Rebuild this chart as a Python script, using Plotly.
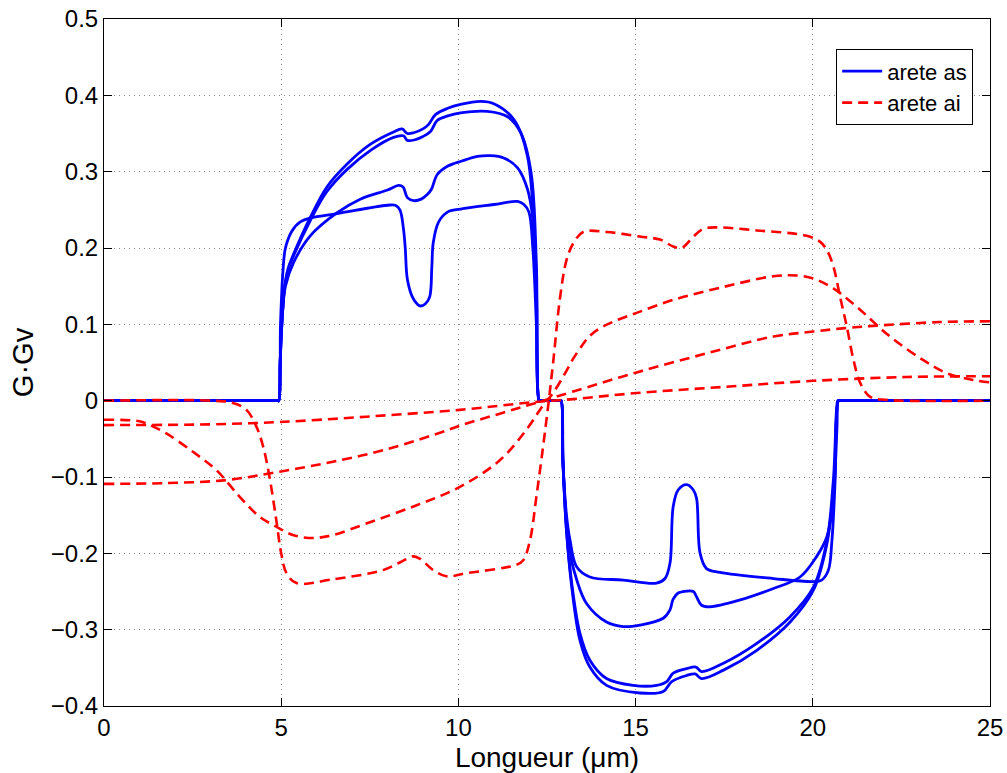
import plotly.graph_objects as go

# ---- data ----
as_a_x = [0, 4.9, 4.93, 4.98, 5.05, 5.12, 5.3, 5.53, 5.9, 6.57, 7.99, 8.22, 8.35, 8.45, 8.5, 8.56, 8.7, 8.85, 8.93, 9.07, 9.19, 9.25, 9.29, 9.44, 9.69, 10.06, 11.0, 11.67, 11.85, 11.99, 12.1, 12.2, 12.28, 12.31,
          12.87, 12.9, 12.95, 13.05, 13.15, 13.34, 13.71, 14.65, 15.59, 15.83, 15.97, 16.06, 16.2, 16.44, 16.63, 16.72, 16.82, 17.0, 17.38, 18.89, 20.02, 20.25, 20.44, 20.54, 20.63, 20.7, 20.73, 25]
as_a_y = [0, 0, 0, 0.1, 0.17, 0.2, 0.222, 0.234, 0.24, 0.245, 0.256, 0.256, 0.25, 0.225, 0.2, 0.159, 0.136, 0.126, 0.124, 0.127, 0.136, 0.175, 0.207, 0.234, 0.247, 0.251, 0.257, 0.261, 0.257, 0.247, 0.2, 0.1, 0, 0,
          0, 0, -0.08, -0.15, -0.183, -0.218, -0.231, -0.235, -0.239, -0.233, -0.213, -0.139, -0.117, -0.11, -0.117, -0.128, -0.2, -0.22, -0.225, -0.233, -0.237, -0.235, -0.222, -0.183, -0.104, 0, 0, 0]

as_b_x = [0, 4.9, 4.93, 4.97, 5.03, 5.12, 5.35, 5.82, 6.57, 7.23, 8.0, 8.31, 8.44, 8.56, 8.74, 8.95, 9.12, 9.24, 9.4, 9.69, 10.1, 10.54, 10.91, 11.28, 11.67, 11.95, 12.1, 12.2, 12.28, 12.31,
          12.87, 12.9, 12.95, 13.05, 13.15, 13.34, 13.62, 14.18, 14.65, 15.12, 15.78, 15.97, 16.06, 16.2, 16.35, 16.63, 16.72, 16.86, 17.1, 17.95, 18.89, 19.64, 20.11, 20.4, 20.58, 20.68, 20.72, 20.75, 25]
as_b_y = [0, 0, 0, 0.05, 0.11, 0.15, 0.181, 0.216, 0.246, 0.264, 0.276, 0.282, 0.28, 0.266, 0.262, 0.264, 0.27, 0.277, 0.296, 0.307, 0.314, 0.32, 0.321, 0.318, 0.305, 0.277, 0.238, 0.15, 0, 0,
          0, 0, -0.08, -0.16, -0.2, -0.235, -0.266, -0.29, -0.296, -0.294, -0.285, -0.274, -0.26, -0.252, -0.25, -0.25, -0.257, -0.268, -0.27, -0.261, -0.246, -0.231, -0.204, -0.178, -0.126, -0.038, 0, 0, 0]

as_c_x = [0, 4.9, 4.93, 4.97, 5.03, 5.1, 5.2, 5.35, 5.82, 6.29, 6.86, 7.52, 8.17, 8.45, 8.56, 8.79, 9.0, 9.22, 9.4, 9.7, 10.06, 10.82, 11.39, 11.76, 12.05, 12.2, 12.28, 12.31,
          12.87, 12.9, 12.95, 13.05, 13.2, 13.43, 13.71, 14.18, 14.93, 15.59, 15.88, 16.06, 16.44, 16.7, 16.86, 17.48, 18.42, 19.36, 20.02, 20.4, 20.58, 20.72, 20.75, 25]
as_c_y = [0, 0, 0, 0.05, 0.11, 0.15, 0.172, 0.19, 0.236, 0.274, 0.303, 0.328, 0.345, 0.347, 0.341, 0.342, 0.346, 0.353, 0.367, 0.373, 0.377, 0.379, 0.372, 0.351, 0.299, 0.18, 0, 0,
          0, 0, -0.08, -0.17, -0.24, -0.305, -0.34, -0.364, -0.373, -0.373, -0.368, -0.357, -0.351, -0.349, -0.355, -0.344, -0.318, -0.283, -0.244, -0.183, -0.104, 0, 0, 0]

as_d_x = [0, 4.9, 4.93, 4.97, 5.03, 5.1, 5.2, 5.35, 5.82, 6.29, 6.86, 7.52, 8.17, 8.41, 8.56, 8.74, 9.0, 9.16, 9.36, 9.7, 10.06, 10.63, 11.0, 11.57, 11.95, 12.19, 12.28, 12.31,
          12.87, 12.9, 12.95, 13.05, 13.2, 13.43, 13.71, 14.18, 15.12, 15.78, 16.02, 16.44, 16.68, 16.86, 17.48, 18.42, 19.36, 20.02, 20.4, 20.6, 20.72, 20.75, 25]
as_d_y = [0, 0, 0, 0.05, 0.11, 0.15, 0.174, 0.192, 0.24, 0.28, 0.31, 0.336, 0.352, 0.356, 0.35, 0.351, 0.356, 0.362, 0.375, 0.383, 0.388, 0.392, 0.389, 0.368, 0.32, 0.159, 0, 0,
          0, 0, -0.08, -0.17, -0.245, -0.314, -0.349, -0.373, -0.383, -0.381, -0.368, -0.36, -0.358, -0.364, -0.353, -0.327, -0.29, -0.248, -0.187, -0.11, 0, 0, 0]

ai_1_x = [0, 3.07, 3.64, 4.02, 4.3, 4.49, 4.67, 4.86, 5.0, 5.15, 5.43, 6.46, 7.87, 8.35, 8.72, 8.91, 9.29, 9.66, 10.23, 11.64, 11.83, 12.02, 12.2, 12.39, 12.53,
          12.68, 12.86, 13.05, 13.24, 13.52, 14.18, 15.12, 15.69, 16.06, 16.3, 16.63, 16.91, 17.29, 18.42, 19.83, 20.21, 20.4, 20.58, 20.77, 20.96, 21.15, 21.34, 21.62, 22.09, 25]
ai_1_y = [0, 0, -0.003, -0.012, -0.034, -0.06, -0.1, -0.156, -0.2, -0.226, -0.239, -0.234, -0.222, -0.212, -0.204, -0.207, -0.222, -0.23, -0.226, -0.215, -0.209, -0.183, -0.126, -0.06, -0.008,
          0.053, 0.132, 0.184, 0.206, 0.221, 0.221, 0.215, 0.211, 0.202, 0.2, 0.215, 0.225, 0.227, 0.223, 0.216, 0.208, 0.197, 0.176, 0.136, 0.097, 0.053, 0.023, 0.005, 0.001, 0]

ai_2_x = [0, 1.0, 1.29, 1.76, 2.51, 3.17, 3.83, 4.39, 4.86, 5.33, 5.9, 6.46, 7.4, 8.82, 10.04, 11.17, 11.92, 12.39, 12.67, 13.0, 13.24, 13.5, 13.71, 14.0, 14.4, 15.03, 16.06, 17.48, 18.89, 19.55, 20.02, 20.58, 21.24, 22.18, 23.12, 23.78, 24.54, 25]
ai_2_y = [-0.025, -0.027, -0.032, -0.043, -0.067, -0.091, -0.126, -0.152, -0.165, -0.176, -0.18, -0.176, -0.161, -0.137, -0.113, -0.078, -0.038, -0.006, 0.01, 0.035, 0.055, 0.073, 0.085, 0.095, 0.104, 0.115, 0.132, 0.149, 0.163, 0.164, 0.16, 0.147, 0.123, 0.084, 0.053, 0.036, 0.027, 0.024]

ai_3_x = [0, 1.76, 3.45, 4.96, 6.46, 7.87, 9.29, 10.23, 11.17, 12.11, 13.24, 15.03, 17.01, 18.89, 20.02, 20.9, 21.71, 23.6, 25]
ai_3_y = [-0.109, -0.108, -0.104, -0.093, -0.08, -0.065, -0.045, -0.03, -0.017, -0.004, 0.012, 0.037, 0.062, 0.084, 0.0906, 0.095, 0.098, 0.103, 0.104]

ai_4_x = [0, 2.98, 4.96, 7.4, 10.04, 12.11, 13.24, 15.03, 17.48, 20.02, 22.66, 25]
ai_4_y = [-0.032, -0.031, -0.028, -0.021, -0.012, -0.002, 0.002, 0.01, 0.018, 0.026, 0.031, 0.032]

x_ticks = [0, 5, 10, 15, 20, 25]
x_ticklabels = ["0", "5", "10", "15", "20", "25"]
y_ticks = [-0.4, -0.3, -0.2, -0.1, 0, 0.1, 0.2, 0.3, 0.4, 0.5]
y_ticklabels = ["\u22120.4", "\u22120.3", "\u22120.2", "\u22120.1", "0", "0.1", "0.2", "0.3", "0.4", "0.5"]

FONT = "Liberation Sans, Arial, Helvetica, sans-serif"

fig = go.Figure()
blue_sets = [(as_a_x, as_a_y), (as_b_x, as_b_y), (as_c_x, as_c_y), (as_d_x, as_d_y)]
for i, (xs, ys) in enumerate(blue_sets):
    fig.add_trace(go.Scatter(x=xs, y=ys, mode="lines", name="arete as",
                             line=dict(color="#0000FF", width=2.8, shape="spline", smoothing=1.0),
                             showlegend=(i == 0)))
red_sets = [(ai_1_x, ai_1_y), (ai_2_x, ai_2_y), (ai_3_x, ai_3_y), (ai_4_x, ai_4_y)]
for i, (xs, ys) in enumerate(red_sets):
    fig.add_trace(go.Scatter(x=xs, y=ys, mode="lines", name="arete ai",
                             line=dict(color="#FF0000", width=2.6, dash="10px,6px",
                                       shape="spline", smoothing=1.0),
                             showlegend=(i == 0)))

axis_common = dict(
    showline=True, linecolor="black", linewidth=1, mirror="allticks",
    ticks="inside", ticklen=8, tickcolor="black", tickwidth=1,
    showgrid=True, gridcolor="#8a8a8a", gridwidth=1, griddash="1px,4px",
    zeroline=False, tickfont=dict(family=FONT, size=24, color="black"),
)

fig.update_layout(
    width=1007, height=773,
    margin=dict(l=104, r=17, t=19, b=67, autoexpand=False),
    paper_bgcolor="white", plot_bgcolor="white",
    font=dict(family=FONT, color="black"),
    xaxis=dict(range=[0, 25], tickvals=x_ticks, ticktext=x_ticklabels,
               title=dict(text="Longueur (\u03bcm)", font=dict(family=FONT, size=28), standoff=10),
               **axis_common),
    yaxis=dict(range=[-0.4, 0.5], tickvals=y_ticks, ticktext=y_ticklabels,
               title=dict(text="G·Gv", font=dict(family=FONT, size=29), standoff=8),
               **axis_common),
    legend=dict(x=0.981, y=0.956, xanchor="right", yanchor="top",
                bgcolor="white", bordercolor="black", borderwidth=1,
                font=dict(family=FONT, size=22, color="black"),
                itemwidth=40, tracegroupgap=0, traceorder="normal"),
    showlegend=True,
)
fig.update_yaxes(automargin=False)
fig.update_xaxes(automargin=False)

fig.write_html("out.html")
